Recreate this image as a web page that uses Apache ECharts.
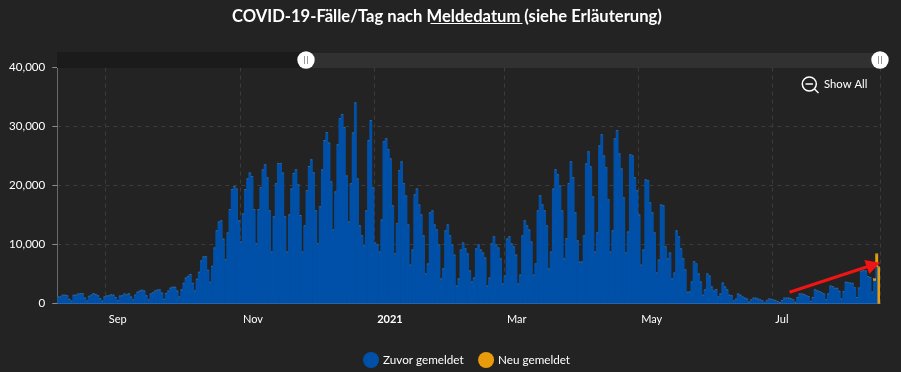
<!DOCTYPE html>
<html><head><meta charset="utf-8">
<style>html,body{margin:0;padding:0;background:#232323}#c{width:901px;height:372px}</style>
<script src="https://cdn.jsdelivr.net/npm/echarts@6/dist/echarts.min.js"></script>
</head><body><div id="c"></div>
<script>
const titleText = 'COVID-19-Fälle/Tag nach Meldedatum (siehe Erläuterung)';
const seriesNames = ['Zuvor gemeldet', 'Neu gemeldet'];
const firstDay = '2020-08-10';
const tickLabels = {'2020-09-01':'Sep','2020-11-01':'Nov','2021-01-01':'2021','2021-03-01':'Mar','2021-05-01':'May','2021-07-01':'Jul'};
const yTicks = [0, 10000, 20000, 30000, 40000];
const zuvorGemeldet = [
1200,1200,1500,1500,1400,800,500,
1500,1500,1700,1750,1750,1000,500,
1300,1500,1750,1600,1400,900,500,
1200,1350,1400,1550,1500,1100,550,
1350,1400,1700,1550,1750,1200,700,
1500,2000,2200,2350,2200,1400,700,
1700,1900,2200,2350,2400,1850,800,
1800,2200,2700,2850,2850,2200,1200,
2400,3500,4400,4700,5000,3500,2200,
4200,5400,7300,8000,8000,5700,3700,
6400,9500,12400,13900,14100,11000,7500,
12050,16000,19400,19900,19500,14100,10500,
15300,19400,21200,22200,21600,16000,10200,
16000,19700,22750,23600,21400,15800,8800,
14800,20400,23800,23800,22200,14800,8800,
15100,19500,22100,22750,20200,15000,8800,
13250,19200,23300,24450,22250,15800,10200,
16500,22750,27700,29050,27300,20700,12550,
19000,27000,31400,32100,29900,21700,13900,
20400,29000,34100,21200,13250,11550,9850,
15800,27700,31100,19700,10350,10000,8800,
14250,27500,28000,26150,24600,16650,8500,
13600,22600,24100,20400,18300,13400,6600,
9150,18500,19500,16800,15100,11550,5100,
6800,15450,15800,13400,12550,10000,4250,
5950,12400,13400,11550,10000,8300,3050,
4250,9150,10350,9350,8500,5600,3750,
4400,9350,10000,9150,8650,7800,3050,
4400,10200,11400,10000,9500,7650,3400,
4750,11000,11400,10200,9700,8300,3400,
4900,11550,14100,13250,12550,10500,4900,
6800,15800,18350,16800,15800,13250,5950,
8800,19500,22750,21900,20000,15800,7650,
11050,20400,24100,21400,15450,10700,7100,
7100,11550,23750,25800,23250,18150,8800,
12050,26800,28700,25100,23100,17650,8800,
12400,28000,29400,25450,22900,18000,8650,
12200,25300,25100,21400,19200,15100,6600,
9150,21050,20900,17150,15450,12050,5250,
7450,16800,16650,9700,7650,8650,4250,
5250,12400,11400,9350,7650,5800,2000,
2050,3750,7150,6800,5100,3750,1500,
2400,5100,4750,2900,2200,2450,1200,
1700,3550,2900,2400,1500,1400,500,
800,1700,1500,1200,1000,850,350,
700,1000,1000,850,700,550,200,
550,850,800,700,600,400,250,
600,1000,1000,1000,900,700,300,
1100,1700,1700,1600,1400,1250,450,
1100,2400,2250,2100,1900,1700,700,
1700,3050,2950,2650,2650,2150,850,
2100,3700,3600,3550,3500,2750,1100,
2700,5550,5650,5600,4650,4500,2000,
3850,6200,0];
const neuGemeldetTail = [450, 2300, 6300];

const categories = zuvorGemeldet.map((_, i) => {
  const d = new Date(Date.parse(firstDay + 'T00:00:00Z') + i * 864e5);
  return d.toISOString().slice(0, 10);
});
const neuGemeldet = zuvorGemeldet.map((_, i) => {
  const k = i - (zuvorGemeldet.length - neuGemeldetTail.length);
  return k >= 0 ? neuGemeldetTail[k] : 0;
});
const totals = zuvorGemeldet.map((v, i) => v + neuGemeldet[i]);
const isTick = (idx, val) => Object.prototype.hasOwnProperty.call(tickLabels, val);
const font = 'Lato';

const chart = echarts.init(document.getElementById('c'), null, {renderer: 'canvas'});
chart.setOption({
  animation: false,
  backgroundColor: '#232323',
  textStyle: {fontFamily: font},
  title: {text: titleText, left: 227, top: 3,
    textStyle: {color: '#fff', fontSize: 16.6, fontWeight: 700, fontFamily: font}},
  legend: {data: seriesNames, left: 358, top: 347, icon: 'circle', itemWidth: 16, itemHeight: 16, itemGap: 14.5,
    textStyle: {color: '#fff', fontSize: 11.7, fontFamily: font, padding: [0, 0, 0, -1]}},
  grid: {left: 57.3, right: 21, top: 67.5, height: 236},
  xAxis: {type: 'category', data: categories, boundaryGap: true,
    axisLine: {lineStyle: {color: '#5f7fae', width: 1}},
    axisTick: {interval: isTick, length: 5, lineStyle: {color: '#8a8a8a'}},
    splitLine: {show: true, interval: isTick, lineStyle: {color: '#3c3c3c', type: [4, 4]}},
    axisLabel: {interval: isTick, margin: 10, align: 'left', color: '#fff', fontSize: 11, fontFamily: font,
      hideOverlap: false, padding: [0, 0, 0, 2],
      formatter: v => v === '2021-01-01' ? '{b|' + tickLabels[v] + '}' : (tickLabels[v] || ''),
      rich: {b: {fontWeight: 700, color: '#fff', fontSize: 11, fontFamily: font}}}},
  yAxis: {type: 'value', min: yTicks[0], max: yTicks[4], interval: yTicks[1],
    axisLine: {show: true, lineStyle: {color: '#6a6a6a'}},
    axisTick: {show: true, length: 5, lineStyle: {color: '#8a8a8a'}},
    splitLine: {lineStyle: {color: '#3c3c3c', type: [4, 4]}},
    axisLabel: {color: '#fff', fontSize: 11.6, fontFamily: font, margin: 12, padding: [2, 0, 0, 0],
      formatter: v => v.toLocaleString('en-US')}},
  series: [
    {name: seriesNames[0], type: 'bar', stack: 'a', data: zuvorGemeldet, barWidth: 2.9,
      itemStyle: {color: '#0050a8'}, z: 2},
    {name: seriesNames[1], type: 'bar', stack: 'a', data: neuGemeldet, barWidth: 2.9,
      itemStyle: {color: '#e89c0c'}, z: 2},
    {name: 'cap', type: 'pictorialBar', data: totals, symbol: 'rect', symbolSize: ['100%', 1], symbolPosition: 'end',
      barGap: '-100%', silent: true, z: 3, itemStyle: {color: '#55636f'}}
  ],
  graphic: [
    {type: 'rect', silent: true, z: 1, shape: {x: 57, y: 52, width: 249, height: 16}, style: {fill: '#1b1b1b'}},
    {type: 'rect', silent: true, z: 1, shape: {x: 306, y: 53, width: 574, height: 15}, style: {fill: '#313131'}},
    {type: 'circle', silent: true, z: 10, shape: {cx: 306, cy: 60, r: 8.7}, style: {fill: '#fff'}},
    {type: 'line', silent: true, z: 11, shape: {x1: 304.5, y1: 56, x2: 304.5, y2: 64}, style: {stroke: '#999', lineWidth: 1}},
    {type: 'line', silent: true, z: 11, shape: {x1: 307.5, y1: 56, x2: 307.5, y2: 64}, style: {stroke: '#999', lineWidth: 1}},
    {type: 'circle', silent: true, z: 10, shape: {cx: 880, cy: 60, r: 8.7}, style: {fill: '#fff'}},
    {type: 'line', silent: true, z: 11, shape: {x1: 878.5, y1: 56, x2: 878.5, y2: 64}, style: {stroke: '#999', lineWidth: 1}},
    {type: 'line', silent: true, z: 11, shape: {x1: 881.5, y1: 56, x2: 881.5, y2: 64}, style: {stroke: '#999', lineWidth: 1}},
    {type: 'line', silent: true, z: 10, shape: {x1: 430.5, y1: 23.5, x2: 522.5, y2: 23.5}, style: {stroke: '#fff', lineWidth: 1}},
    {type: 'circle', silent: true, z: 10, shape: {cx: 809.3, cy: 84, r: 7}, style: {fill: 'none', stroke: '#fff', lineWidth: 1.5}},
    {type: 'line', silent: true, z: 10, shape: {x1: 805.5, y1: 84, x2: 813, y2: 84}, style: {stroke: '#fff', lineWidth: 1.5}},
    {type: 'line', silent: true, z: 10, shape: {x1: 814.5, y1: 89, x2: 818.5, y2: 93}, style: {stroke: '#fff', lineWidth: 1.5}},
    {type: 'text', silent: true, z: 10, x: 824, y: 79, style: {text: 'Show All', fill: '#fff', fontSize: 11.3, fontFamily: font}},
    {type: 'line', silent: true, z: 12, shape: {x1: 789.5, y1: 292.3, x2: 868, y2: 266.5}, style: {stroke: '#f01414', lineWidth: 3}},
    {type: 'polygon', silent: true, z: 12, shape: {points: [[880, 262.7], [864.3, 260], [869.3, 274]]}, style: {fill: '#f01414'}}
  ]
});
</script></body></html>
